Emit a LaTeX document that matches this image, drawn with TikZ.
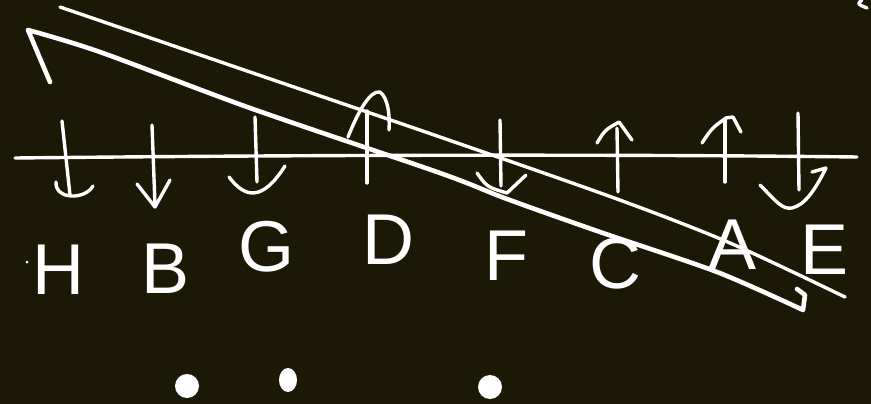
\documentclass[tikz,border=0pt]{standalone}
\usepackage{fontspec}
\setmainfont{Liberation Sans}
\definecolor{bg}{RGB}{27,25,5}
\begin{document}
\begin{tikzpicture}[x=1pt,y=-1pt,
  stroke/.style={draw=white,line width=3.4pt,line cap=round,line join=round},
  thick stroke/.style={draw=white,line width=4.6pt,line cap=round,line join=round},
  lbl/.style={text=white,font=\fontsize{72}{72}\selectfont,inner sep=0pt},
  dot/.style={fill=white}]
\fill[bg] (0,0) rectangle (871,404);
\useasboundingbox (0,0) rectangle (871,404);
% axis
\draw[stroke] (15,158) .. controls (300,155) and (600,154) .. (857,157);
% diagonal lines
\draw[thick stroke] (50,82) -- (28,30) plot[smooth] coordinates {(28,30) (100,52) (250,108) (440,173) (507,199) (600,232) (717,272) (803,310)} -- (805,295) -- (797,289);
\draw[stroke] plot[smooth] coordinates {(60,7) (250,72) (440,137) (617,199) (730,243) (845,297)};
% H arrow
\draw[stroke] (62,121) -- (70,195);
\draw[stroke] (56,182) .. controls (55,200) and (85,200) .. (93,186);
% B arrow
\draw[stroke] (152,125) -- (155,205);
\draw[stroke] (137,184) -- (155,207) -- (170,180);
% G arrow
\draw[stroke] (255,117) -- (257,182);
\draw[stroke] (229,177) .. controls (245,198) and (262,202) .. (285,166);
% D arrow
\draw[stroke] (367,111) -- (367,183);
\draw[stroke] (348,137) .. controls (358,112) and (370,90) .. (380,92) .. controls (388,98) and (390,115) .. (389,130);
% F arrow
\draw[stroke] (500,120) -- (501,186);
\draw[stroke] (477,173) .. controls (487,187) .. (507,193) -- (526,175);
% C arrow
\draw[stroke] (617,128) -- (618,192);
\draw[stroke] (597,143) .. controls (605,130) .. (619,122) -- (632,140);
% A arrow
\draw[stroke] (725,120) -- (725,182);
\draw[stroke] (702,143) .. controls (712,128) .. (726,118) -- (733,117) -- (741,132);
% E arrow
\draw[stroke] (798,113) -- (799,190);
\draw[stroke] (760,185) .. controls (775,200) and (782,210) .. (792,208) .. controls (805,205) and (815,190) .. (826,168) -- (812,172);
% top-right mark
\draw[stroke] (862,0) .. controls (857,4) .. (867,8);
% labels
\node[lbl] (H) at (58,270) {H};
\node[lbl] (B) at (166,269) {B};
\node[lbl] (G) at (267,247) {G};
\node[lbl] (D) at (388,240) {D};
\node[lbl] (F) at (506,256) {F};
\node[lbl] (C) at (615,264) {C};
\node[lbl] (A) at (733,245) {A};
\node[lbl] (E) at (825,250) {E};
% dots
\fill[dot] (187,386) circle (12);
\fill[dot] (288,380) ellipse (9 and 12);
\fill[dot] (490,387) circle (12);
\fill[dot] (27,262) circle (1.5);
\end{tikzpicture}
\end{document}
